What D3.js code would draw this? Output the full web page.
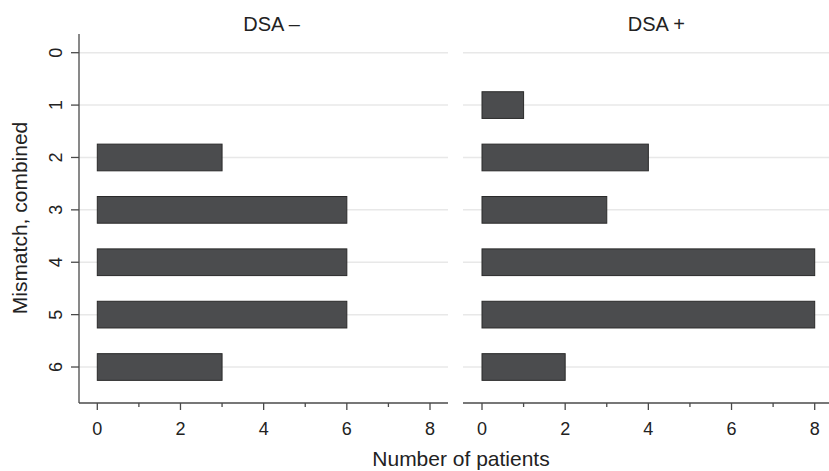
<!DOCTYPE html>
<html>
<head>
<meta charset="utf-8">
<script src="https://cdn.jsdelivr.net/npm/d3@7"></script>
<style>
  html, body { margin: 0; padding: 0; background: #fff; }
  svg { display: block; font-family: "Liberation Sans", Arial, Helvetica, sans-serif; }
</style>
</head>
<body>
<svg id="chart" width="829" height="471"></svg>
<script>
// Mismatch score categories and patient counts per panel
const categories = [0, 1, 2, 3, 4, 5, 6];
const dsaNegative = [0, 0, 3, 6, 6, 6, 3];
const dsaPositive = [0, 1, 4, 3, 8, 8, 2];
const panelTitles = ["DSA \u2013", "DSA +"];
const xMajorTicks = [0, 2, 4, 6, 8];
const xMinorTicks = [1, 3, 5, 7];

const panels = [
  { title: panelTitles[0], values: dsaNegative, x0: 79, x1: 448, showY: true },
  { title: panelTitles[1], values: dsaPositive, x0: 463, x1: 829, showY: false }
];

const svg = d3.select("#chart");
const plotTop = 34, plotBottom = 403;

const y = d3.scaleLinear().domain([-0.357, 6.687]).range([plotTop, plotBottom]);
const barH = 26.7;

const axisColor = "#4a4a4a";
const textColor = "#222";

panels.forEach((p, i) => {
  const offset = i === 0 ? 97.3 : 482;
  const x = d3.scaleLinear().domain([0, 8]).range([offset, offset + 332.7]);
  const g = svg.append("g");

  // horizontal gridlines at each category
  g.selectAll("line.grid").data(categories).join("line")
    .attr("class", "grid")
    .attr("x1", p.x0).attr("x2", p.x1)
    .attr("y1", d => y(d)).attr("y2", d => y(d))
    .attr("stroke", "#e8e8e8").attr("stroke-width", 1.5);

  // bars
  const data = categories.map((c, k) => ({ c, v: p.values[k] })).filter(d => d.v > 0);
  g.selectAll("rect.bar").data(data).join("rect")
    .attr("class", "bar")
    .attr("x", x(0))
    .attr("y", d => y(d.c) - barH / 2)
    .attr("width", d => x(d.v) - x(0))
    .attr("height", barH)
    .attr("fill", "#4b4c4e")
    .attr("stroke", "#2a2a2a")
    .attr("stroke-width", 1);

  // x axis line
  g.append("line")
    .attr("x1", p.x0).attr("x2", p.x1)
    .attr("y1", plotBottom).attr("y2", plotBottom)
    .attr("stroke", axisColor).attr("stroke-width", 1.3);

  // major and minor ticks + labels
  g.selectAll("line.major").data(xMajorTicks).join("line")
    .attr("class", "major")
    .attr("x1", d => x(d)).attr("x2", d => x(d))
    .attr("y1", plotBottom).attr("y2", plotBottom + 7)
    .attr("stroke", axisColor).attr("stroke-width", 1.3);
  g.selectAll("line.minor").data(xMinorTicks).join("line")
    .attr("class", "minor")
    .attr("x1", d => x(d)).attr("x2", d => x(d))
    .attr("y1", plotBottom).attr("y2", plotBottom + 4)
    .attr("stroke", axisColor).attr("stroke-width", 1.3);
  g.selectAll("text.xt").data(xMajorTicks).join("text")
    .attr("class", "xt")
    .attr("x", d => x(d)).attr("y", 435)
    .attr("text-anchor", "middle")
    .attr("font-size", 18).attr("fill", textColor)
    .text(d => d);

  // panel title
  g.append("text")
    .attr("x", (x(0) + x(8)) / 2 + 8).attr("y", 31)
    .attr("text-anchor", "middle")
    .attr("font-size", 20).attr("fill", textColor)
    .text(p.title);

  if (p.showY) {
    g.append("line")
      .attr("x1", p.x0).attr("x2", p.x0)
      .attr("y1", plotTop).attr("y2", plotBottom)
      .attr("stroke", axisColor).attr("stroke-width", 1.3);
    g.selectAll("line.yt").data(categories).join("line")
      .attr("class", "yt")
      .attr("x1", p.x0 - 8).attr("x2", p.x0)
      .attr("y1", d => y(d)).attr("y2", d => y(d))
      .attr("stroke", axisColor).attr("stroke-width", 1.3);
    g.selectAll("text.ytl").data(categories).join("text")
      .attr("class", "ytl")
      .attr("transform", d => `translate(62,${y(d)}) rotate(-90)`)
      .attr("text-anchor", "middle")
      .attr("font-size", 18).attr("fill", textColor)
      .text(d => d);
  }
});

// axis titles
svg.append("text")
  .attr("x", 461).attr("y", 466)
  .attr("text-anchor", "middle")
  .attr("font-size", 21).attr("fill", textColor)
  .text("Number of patients");

svg.append("text")
  .attr("transform", `translate(27,218) rotate(-90)`)
  .attr("text-anchor", "middle")
  .attr("font-size", 21).attr("fill", textColor)
  .text("Mismatch, combined");
</script>
</body>
</html>
